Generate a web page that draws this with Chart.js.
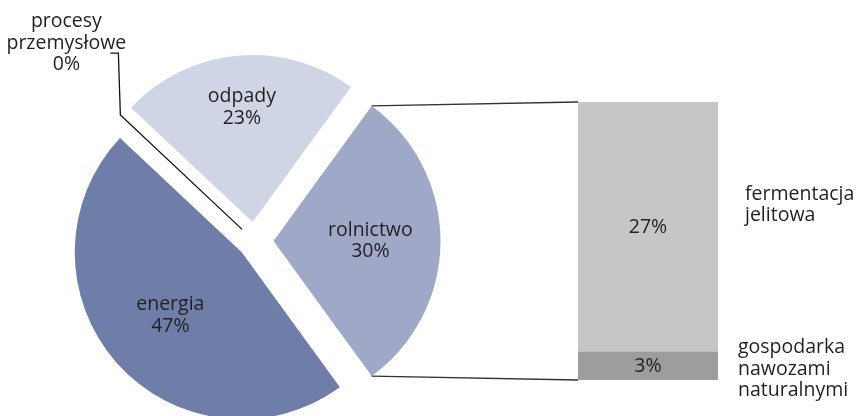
<!DOCTYPE html>
<html>
<head>
<meta charset="utf-8">
<script src="https://cdn.jsdelivr.net/npm/chart.js@4.4.0/dist/chart.umd.min.js"></script>
<style>
  html, body { margin: 0; padding: 0; background: #fff; }
  #wrap { position: relative; width: 857px; height: 416px; overflow: hidden; }
  canvas { position: absolute; left: 0; top: 0; }
</style>
</head>
<body>
<div id="wrap">
  <canvas id="pie" width="857" height="416"></canvas>
  <canvas id="bar" width="857" height="416"></canvas>
</div>
<script>
// dane
const sectors = [['rolnictwo'], ['energia'], ['procesy', 'przemysłowe'], ['odpady']];
const sectorValues = [30, 47, 0, 23];
const agriParts = [['fermentacja', 'jelitowa'], ['gospodarka', 'nawozami', 'naturalnymi']];
const agriValues = [27, 3];

// wyglad
const pieColors = ['#a0a8c8', '#6f7ea9', '#8a8a8a', '#cfd5e4'];
const barColors = ['#c6c6c6', '#9d9d9d'];
const explode = [19, 17, 17, 19];
const labelDist = [0.58, 0.57, 0, 0.69];
const partLabelShift = [[27, -22], [20, 3]];
const FONT = '19.5px "Open Sans", sans-serif';
const TEXT = '#231f20';
const LINE_H = 21.5;

function drawLines(ctx, lines, x, y, align) {
    ctx.textAlign = align;
    ctx.textBaseline = 'middle';
    const y0 = y - (lines.length - 1) * LINE_H / 2;
    lines.forEach((t, i) => ctx.fillText(t, x, y0 + i * LINE_H));
}

const explodePlugin = {
    id: 'explode',
    afterUpdate(chart) {
        chart.getDatasetMeta(0).data.forEach((arc, i) => {
            const mid = (arc.startAngle + arc.endAngle) / 2;
            arc.x += Math.cos(mid) * explode[i];
            arc.y += Math.sin(mid) * explode[i];
        });
    },
    afterDraw(chart) {
        const ctx = chart.ctx;
        const arcs = chart.getDatasetMeta(0).data;
        ctx.save();
        ctx.font = FONT;
        ctx.fillStyle = TEXT;
        arcs.forEach((arc, i) => {
            const mid = (arc.startAngle + arc.endAngle) / 2;
            const pct = sectorValues[i] + '%';
            if (sectorValues[i] > 0) {
                const d = arc.outerRadius * labelDist[i];
                drawLines(ctx, sectors[i].concat(pct), arc.x + Math.cos(mid) * d, arc.y + Math.sin(mid) * d, 'center');
            } else {
                // linia odniesienia dla zerowego wycinka
                const r = arc.outerRadius;
                const ex = arc.x + Math.cos(mid) * r;
                const ey = arc.y + Math.sin(mid) * r;
                ctx.strokeStyle = '#111';
                ctx.lineWidth = 1.3;
                ctx.beginPath();
                ctx.moveTo(arc.x, arc.y);
                ctx.lineTo(ex, ey);
                ctx.lineTo(ex - 2, ey - 62);
                ctx.lineTo(ex - 10, ey - 62);
                ctx.stroke();
                drawLines(ctx, sectors[i].concat(pct), ex - 54, ey - 72, 'center');
            }
        });
        ctx.restore();
    }
};

const pieChart = new Chart(document.getElementById('pie'), {
    type: 'pie',
    data: {
        labels: sectors.map(s => s.join(' ')),
        datasets: [{
            data: sectorValues,
            backgroundColor: pieColors,
            borderWidth: 0,
            clip: false
        }]
    },
    options: {
        responsive: false,
        animation: false,
        events: [],
        rotation: 36,
        radius: 167,
        layout: { padding: { left: 0, right: 348, top: 66, bottom: 0 } },
        plugins: { legend: { display: false }, tooltip: { enabled: false } }
    },
    plugins: [explodePlugin]
});

const barPlugin = {
    id: 'barLabels',
    afterDraw(chart) {
        const ctx = chart.ctx;
        ctx.save();
        // segmenty: dataset 0 = dol (gospodarka), dataset 1 = gora (fermentacja)
        let left = 0, top = 0, bottom = 0;
        chart.data.datasets.forEach((ds, di) => {
            const bar = chart.getDatasetMeta(di).data[0];
            const idx = ds.partIndex;
            const cy = (bar.y + bar.base) / 2;
            ctx.font = FONT;
            ctx.fillStyle = TEXT;
            drawLines(ctx, [agriValues[idx] + '%'], bar.x, cy, 'center');
            const right = bar.x + bar.width / 2;
            drawLines(ctx, agriParts[idx], right + partLabelShift[idx][0], cy + partLabelShift[idx][1], 'left');
            left = bar.x - bar.width / 2;
            if (di === 0) bottom = bar.base;
            top = bar.y;
        });
        // linie laczace wycinek rolnictwa ze slupkiem
        const arc = pieChart.getDatasetMeta(0).data[0];
        const r = arc.outerRadius;
        ctx.strokeStyle = '#333';
        ctx.lineWidth = 1.3;
        ctx.beginPath();
        ctx.moveTo(arc.x + Math.cos(arc.startAngle) * r, arc.y + Math.sin(arc.startAngle) * r);
        ctx.lineTo(left, top);
        ctx.moveTo(arc.x + Math.cos(arc.endAngle) * r, arc.y + Math.sin(arc.endAngle) * r);
        ctx.lineTo(left, bottom);
        ctx.stroke();
        ctx.restore();
    }
};

const order = [1, 0];
new Chart(document.getElementById('bar'), {
    type: 'bar',
    data: {
        labels: ['rolnictwo'],
        datasets: order.map(i => ({
            label: agriParts[i].join(' '),
            partIndex: i,
            data: [agriValues[i]],
            backgroundColor: barColors[i],
            borderWidth: 0,
            categoryPercentage: 1,
            barPercentage: 1
        }))
    },
    options: {
        responsive: false,
        animation: false,
        events: [],
        layout: { padding: { left: 578, right: 139, top: 102, bottom: 36 } },
        scales: {
            x: { stacked: true, display: false },
            y: { stacked: true, display: false, min: 0, max: 30 }
        },
        plugins: { legend: { display: false }, tooltip: { enabled: false } }
    },
    plugins: [barPlugin]
});
</script>
</body>
</html>
